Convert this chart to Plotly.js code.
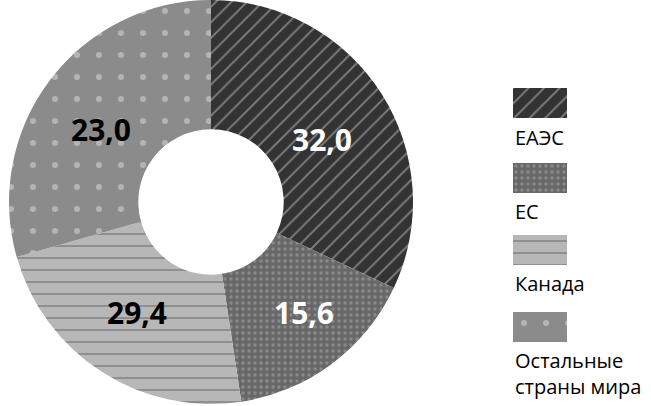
<!DOCTYPE html>
<html><head><meta charset="utf-8">
<script src="https://cdn.plot.ly/plotly-3.0.1.min.js"></script>
<style>html,body{margin:0;padding:0;background:#fff}</style>
</head><body><div id="chart" style="width:651px;height:406px"></div>
<script>
// data (slice sizes as drawn in the picture; printed labels as shown on the slices)
const categories = ['ЕАЭС', 'ЕС', 'Канада', 'Остальные<br>страны мира'];
const values = [32.0, 15.6, 23.0, 29.4];
const valueLabels = ['32,0', '15,6', '29,4', '23,0'];

// styles
const labelColors = ['#ffffff', '#ffffff', '#000000', '#000000'];
const bgColors = ['#333333', '#686868', '#b7b7b7', '#8b8b8b'];
const fgColors = ['#808080', '#8a8a8a', '#8a8a8a', '#b4b4b4'];
const patShapes = ['/', '.', '-', '.'];
const patSizes = [11, 6, 12, 22];
const patSolidity = [0.17, 0.25, 0.15, 0.06];
const labelPos = [[322, 139], [304, 312], [137, 312], [101, 129]]; // px centres of value labels
const FONT = 'Open Sans, Noto Sans, DejaVu Sans, sans-serif';
const W = 651, H = 406;

const traces = [{
  type: 'pie', labels: categories, values: values,
  sort: false, direction: 'clockwise', rotation: 0, hole: 0.36,
  domain: {x: [9/W, 413/W], y: [0.005, 1]},
  marker: {colors: bgColors, line: {width: 0},
    pattern: {shape: patShapes, bgcolor: bgColors, fgcolor: fgColors, size: patSizes,
              solidity: patSolidity, fillmode: 'replace'}},
  textinfo: 'none', showlegend: false, hoverinfo: 'none'
}];

const swatchDomains = [[88, 118], [163, 193], [235, 265], [312, 342]];
const textY = [137, 211, 283, 373];
const layout = {
  width: W, height: H, margin: {l: 0, r: 0, t: 0, b: 0},
  paper_bgcolor: '#fff', plot_bgcolor: 'rgba(0,0,0,0)',
  separators: ', ', showlegend: false, bargap: 0,
  font: {family: FONT, size: 20, color: '#000'},
  xaxis: {domain: [513/W, 567/W], range: [-0.5, 0.5], visible: false, fixedrange: true},
  annotations: []
};
categories.forEach((c, i) => {
  const d = swatchDomains[i];
  layout['yaxis' + (i + 2)] = {domain: [1 - d[1]/H, 1 - d[0]/H], range: [0, 1], visible: false, fixedrange: true};
  traces.push({
    type: 'bar', x: [0], y: [1], width: [1], xaxis: 'x', yaxis: 'y' + (i + 2),
    marker: {color: bgColors[i], line: {width: 0},
      pattern: {shape: patShapes[i], bgcolor: bgColors[i], fgcolor: fgColors[i], size: patSizes[i],
                solidity: patSolidity[i], fillmode: 'replace'}},
    hoverinfo: 'none', showlegend: false
  });
  layout.annotations.push({
    text: c, xref: 'paper', yref: 'paper', x: 513/W, y: 1 - textY[i]/H,
    xanchor: 'left', yanchor: 'middle', align: 'left', showarrow: false,
    font: {family: FONT, size: 20, color: '#000'}
  });
  layout.annotations.push({
    text: valueLabels[i], xref: 'paper', yref: 'paper',
    x: labelPos[i][0]/W, y: 1 - labelPos[i][1]/H, xanchor: 'center', yanchor: 'middle',
    showarrow: false, font: {family: FONT, size: 30, color: labelColors[i], weight: 'bold'}
  });
});

Plotly.newPlot('chart', traces, layout, {displayModeBar: false, staticPlot: true});
</script></body></html>
